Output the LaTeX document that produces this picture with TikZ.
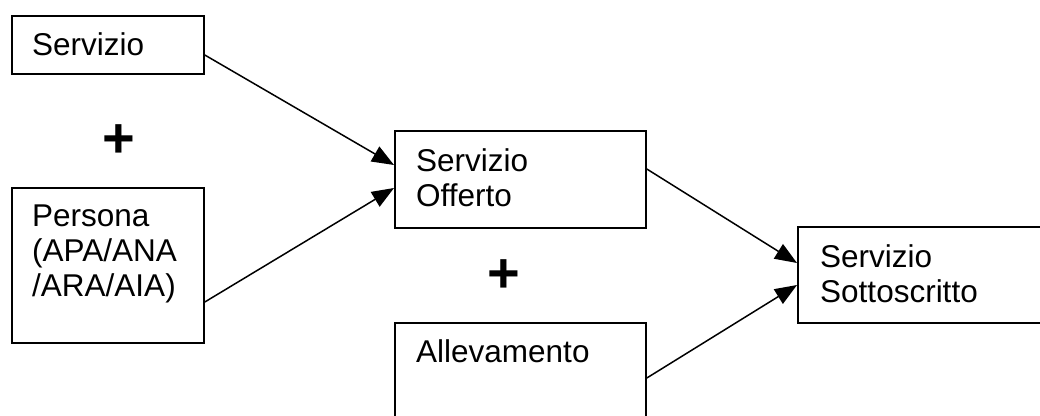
\documentclass[tikz,border=0pt]{standalone}
\usepackage{fontspec}
\setmainfont{Liberation Sans}
\usetikzlibrary{arrows.meta,calc}
\begin{document}
\begin{tikzpicture}[x=1pt,y=-1pt,
  box/.style={draw=black,line width=1.8pt,rectangle,inner sep=0pt,anchor=north west},
  lbl/.style={anchor=north west,inner sep=0pt,align=left,font=\fontsize{31.5}{35}\selectfont},
  plus/.style={inner sep=0pt,font=\bfseries\fontsize{56}{56}\selectfont},
  conn/.style={line width=1.5pt,-{Triangle[length=22pt,width=17pt]}}]
\useasboundingbox (0,0) rectangle (1040,415);
\clip (0,0) rectangle (1040,415);
\fill[white] (0,0) rectangle (1040,415);
% boxes
\node[box,minimum width=192pt,minimum height=58pt] (serv) at (11,15) {};
\node[box,minimum width=192pt,minimum height=155pt] (pers) at (11,187) {};
\node[box,minimum width=251pt,minimum height=97pt] (off) at (394,130) {};
\node[box,minimum width=251pt,minimum height=110pt] (allev) at (394,322) {};
\node[box,minimum width=251pt,minimum height=96pt] (sott) at (797,226) {};
% labels
\node[lbl] (tserv) at ($(serv.north west)+(21,17.5)$) {Servizio};
\node[lbl] (tpers) at ($(pers.north west)+(21,17.5)$) {Persona\\(APA/ANA\\/ARA/AIA)};
\node[lbl] (toff) at ($(off.north west)+(22,18.5)$) {Servizio\\Offerto};
\node[lbl] (tallev) at ($(allev.north west)+(22,17.5)$) {Allevamento};
\node[lbl] (tsott) at ($(sott.north west)+(23,18.5)$) {Servizio\\Sottoscritto};
% plus signs
\node[plus] (p1) at (119,141.5) {+};
\node[plus] (p2) at (503.5,276.5) {+};
% connectors
\draw[conn] ($(serv.north east)+(0,40)$) -- ($(off.north west)+(0,35)$);
\draw[conn] ($(pers.north east)+(0,115)$) -- ($(off.north west)+(0,58)$);
\draw[conn] ($(off.north east)+(0,39)$) -- ($(sott.north west)+(0,37)$);
\draw[conn] ($(allev.north east)+(0,56)$) -- ($(sott.north west)+(0,59)$);
\end{tikzpicture}
\end{document}
